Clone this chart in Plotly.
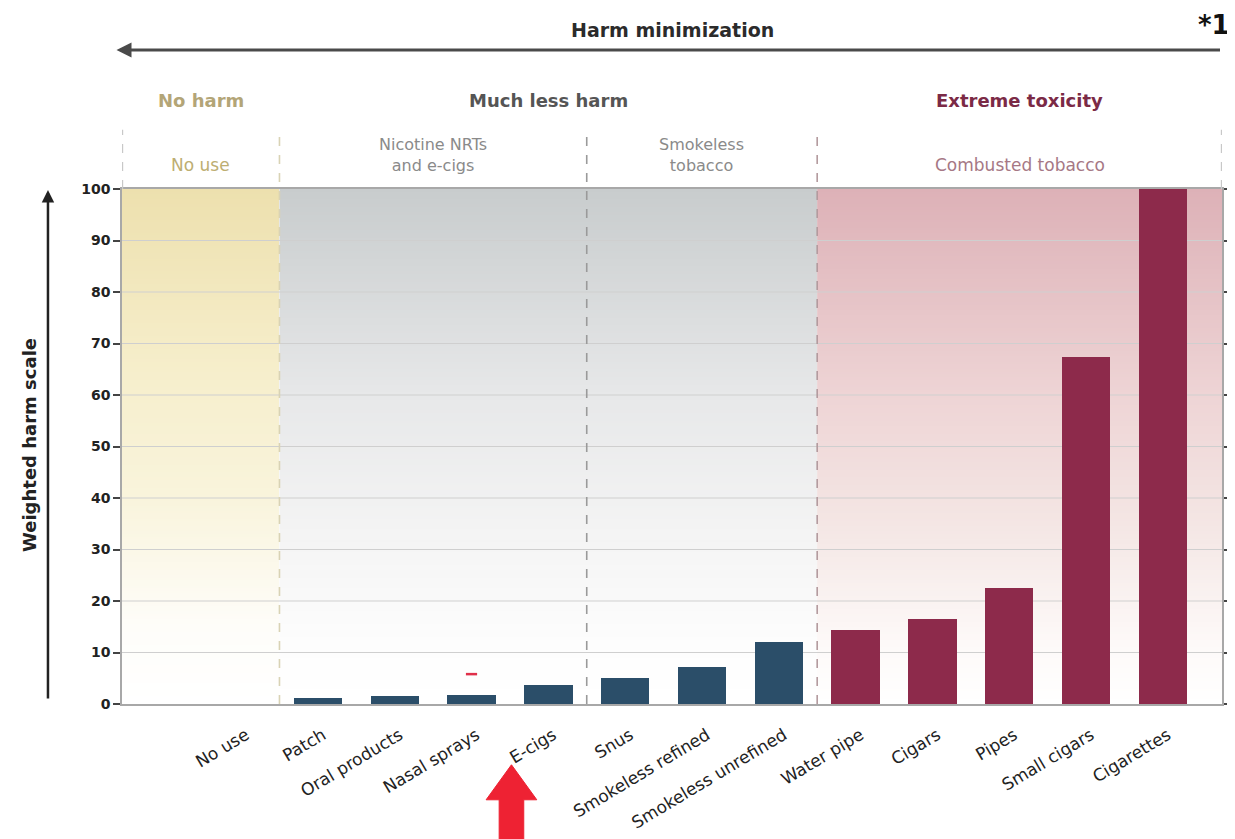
import numpy as np
import plotly.graph_objects as go

# ---------------- data ----------------
categories = ["No use", "Patch", "Oral products", "Nasal sprays", "E-cigs", "Snus",
              "Smokeless refined", "Smokeless unrefined", "Water pipe", "Cigars",
              "Pipes", "Small cigars", "Cigarettes"]
harm_values = [0, 1.2, 1.5, 1.7, 3.7, 5.0, 7.2, 12.0, 14.3, 16.6, 22.5, 67.4, 100]
groups = ["none", "nrt", "nrt", "nrt", "nrt", "smokeless", "smokeless", "smokeless",
          "combusted", "combusted", "combusted", "combusted", "combusted"]
marker_category = "Nasal sprays"
marker_value = 5.8
y_ticks = [0, 10, 20, 30, 40, 50, 60, 70, 80, 90, 100]

# ---------------- styling ----------------
FONT = "DejaVu Sans"
BLUE = "#2b4e69"
RED = "#8d2a4b"
group_color = {"none": BLUE, "nrt": BLUE, "smokeless": BLUE, "combusted": RED}

x_pos = list(range(len(categories)))
X_MIN, X_MAX = -1.55, 12.77
B1, B2, B3 = 0.5, 4.5, 7.5

fig = go.Figure()

# background gradients (heatmaps, drawn beneath everything)
y_edges = np.linspace(0, 100, 201)
y_mid = (y_edges[:-1] + y_edges[1:]) / 2
zcol = [[v] for v in y_mid]

regions = [
    (X_MIN, B1, [[0, "#ffffff"], [0.15, "#fefdf9"], [0.4, "#f9f4dc"], [0.65, "#f6eecb"], [1, "#ede0ae"]]),
    (B1, B3, [[0, "#ffffff"], [0.12, "#fdfdfd"], [0.35, "#f3f3f3"], [0.6, "#e7e8e9"], [1, "#c8cccd"]]),
    (B3, X_MAX, [[0, "#ffffff"], [0.12, "#fdf9f8"], [0.35, "#f4e6e4"], [0.6, "#eed4d5"], [1, "#ddb1b7"]]),
]
for x0, x1, cs in regions:
    fig.add_trace(go.Heatmap(x=[x0, x1], y=y_edges, z=zcol, colorscale=cs,
                             zmin=0, zmax=100, showscale=False, hoverinfo="skip",
                             xaxis="x", yaxis="y"))

# gridlines on top of background (base subplot)
for t in y_ticks[1:-1]:
    fig.add_trace(go.Scatter(x=[X_MIN, X_MAX], y=[t, t], mode="lines",
                             line=dict(color="#cfcfcf", width=1.2), hoverinfo="skip",
                             showlegend=False, xaxis="x", yaxis="y"))

# bars on overlay subplot so they sit above gridlines
fig.add_trace(go.Bar(x=x_pos, y=harm_values, width=0.63,
                     marker=dict(color=[group_color[g] for g in groups], line=dict(width=0)),
                     xaxis="x2", yaxis="y2", showlegend=False))
fig.add_trace(go.Scatter(x=[categories.index(marker_category)], y=[marker_value], mode="markers",
                         marker=dict(symbol="line-ew", size=8, line=dict(color="#e0304a", width=2.5)),
                         xaxis="x2", yaxis="y2", showlegend=False, hoverinfo="skip"))

# dashed dividers
div_style = [
    (X_MIN + 0.005, "#c8c8c8", 1.0),
    (B1, "#d9d3b5", 0.0),
    (B2, "#9a9a9a", 0.0),
    (B3, "#b39a9e", 0.0),
    (X_MAX - 0.005, "#c8c8c8", 1.0),
]
for xv, col, ystart in div_style:
    fig.add_shape(type="line", xref="x", yref="paper", x0=xv, x1=xv, y0=ystart,
                  y1=1.115, line=dict(color=col, width=1.6, dash="dash"), layer="above")

# big red arrow under E-cigs
ax_c = 3.52
hw, sw = 0.33, 0.16
path = (f"M {ax_c},-0.118 L {ax_c+hw},-0.186 L {ax_c+sw},-0.186 L {ax_c+sw},-0.27 "
        f"L {ax_c-sw},-0.27 L {ax_c-sw},-0.186 L {ax_c-hw},-0.186 Z")
fig.add_shape(type="path", xref="x", yref="paper", path=path,
              fillcolor="#ee2233", line=dict(color="#ee2233", width=1), layer="above")

ann = []
mid = lambda a, b: (a + b) / 2


def label(text, x, y, size, color, xref="x", xanchor="center", angle=0):
    return dict(text=text, x=x, y=y, xref=xref, yref="paper", showarrow=False,
                xanchor=xanchor, yanchor="middle", textangle=angle,
                font=dict(size=size, color=color, family=FONT))


ann += [
    label("<b>Harm minimization</b>", 0.5, 1.309, 19, "#2b2b2b", xref="paper"),
    label("<b>*1</b>", 1.0095, 1.318, 26, "#111111", xref="paper", xanchor="right"),
    label("<b>No harm</b>", mid(X_MIN, B1), 1.171, 18, "#b3a577"),
    label("<b>Much less harm</b>", mid(B1, B3), 1.172, 18, "#555555"),
    label("<b>Extreme toxicity</b>", mid(B3, X_MAX), 1.171, 18, "#7b2a46"),
    label("No use", mid(X_MIN, B1), 1.047, 17, "#bdae72"),
    label("Nicotine NRTs<br>and e-cigs", mid(B1, B2), 1.066, 16, "#8a8a8a"),
    label("Smokeless<br>tobacco", mid(B2, B3), 1.066, 16, "#8a8a8a"),
    label("Combusted tobacco", mid(B3, X_MAX), 1.047, 17, "#a67885"),
    label("<b>Weighted harm scale</b>", -0.0836, 0.503, 18, "#222222", xref="paper", angle=-90),
]
# top arrow (points left)
ann.append(dict(text="", x=-0.005, y=1.27, xref="paper", yref="paper", showarrow=True,
                ax=1105, ay=0, arrowhead=2, arrowsize=1, arrowwidth=3, arrowcolor="#4a4a4a"))
# y-axis arrow (points up)
ann.append(dict(text="", x=-0.0673, y=0.998, xref="paper", yref="paper", showarrow=True,
                ax=0, ay=510, arrowhead=2, arrowsize=1, arrowwidth=2.5, arrowcolor="#222222"))

# page body has an 8px margin: shrink the figure so the plot lands where the reference's does
fig.update_layout(
    width=1227, height=831,
    margin=dict(l=114, r=13, t=181, b=135, autoexpand=False),
    paper_bgcolor="white", plot_bgcolor="white",
    showlegend=False,
    bargap=0,
    annotations=ann,
    font=dict(family=FONT, color="#333333"),
    xaxis=dict(range=[X_MIN, X_MAX], tickmode="array", tickvals=x_pos, ticktext=categories,
               tickangle=-31, tickfont=dict(size=17, color="#222222", family=FONT),
               ticklabelstandoff=13, ticklabelshift=5, automargin=False,
               showgrid=False, zeroline=False, showline=True, linecolor="#a8a8a8", linewidth=1.5,
               mirror=True, ticks="", fixedrange=True),
    yaxis=dict(range=[0, 100], tickmode="array", tickvals=y_ticks, automargin=False,
               tickfont=dict(size=14, color="#222222", family=FONT, weight="bold"),
               showgrid=False, zeroline=False, showline=True, linecolor="#a8a8a8", linewidth=1.5,
               mirror="ticks", ticks="outside", ticklen=7, tickwidth=2, tickcolor="#444444",
               fixedrange=True),
    xaxis2=dict(range=[X_MIN, X_MAX], overlaying="x", visible=False, fixedrange=True, automargin=False),
    yaxis2=dict(range=[0, 100], overlaying="y", visible=False, fixedrange=True, automargin=False),
)

fig.write_html("out.html")
